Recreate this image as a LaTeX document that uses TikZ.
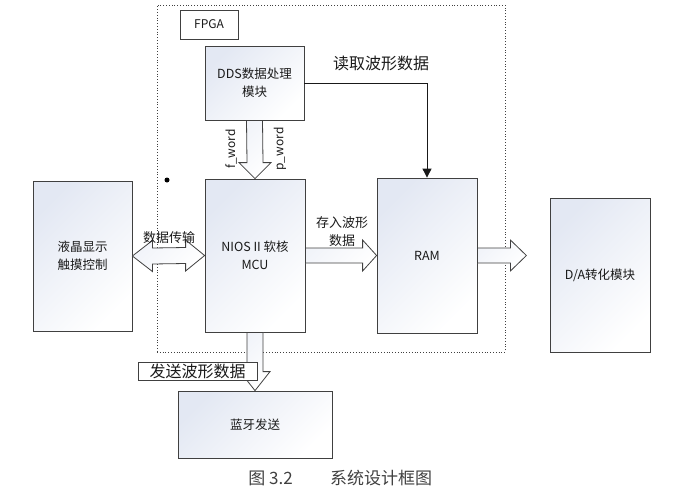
\documentclass[tikz,border=0pt]{standalone}
\usepackage{fontspec}
\setmainfont{Noto Sans CJK SC}
\usetikzlibrary{arrows.meta,calc}
\definecolor{edge}{HTML}{404040}
\definecolor{shadeblue}{HTML}{E3E8F3}
\definecolor{txt}{HTML}{1A1A1A}
\begin{document}
\begin{tikzpicture}[x=1pt,y=-1pt,
  box/.style={draw=edge, line width=0.8pt, top color=shadeblue, bottom color=white, shading angle=45,
    font=\fontsize{12.5}{18}\selectfont, text=txt, align=center, inner sep=0pt},
  fat/.style={draw=edge, line width=0.8pt, top color=shadeblue!50, bottom color=white, shading angle=45, line join=miter},
  lbl/.style={font=\fontsize{13}{18}\selectfont, text=txt, align=center, inner sep=0pt},
  biglbl/.style={font=\fontsize{16}{18}\selectfont, text=txt, inner sep=0pt},
  frame/.style={draw=edge, dotted, line width=0.8pt, inner sep=0pt}]
\useasboundingbox (0,0) rectangle (695,493);

% FPGA frame
\node[frame, minimum width=348pt, minimum height=347pt] (fpgaframe) at (331,178.5) {};
\node[draw=edge, line width=0.8pt, fill=white, minimum width=58pt, minimum height=29pt, inner sep=0pt,
  font=\fontsize{12}{14}\selectfont, text=txt] (fpgalbl) at (209,24.5) {FPGA};

% blocks
\node[box, minimum width=99pt, minimum height=74pt] (dds) at (254.5,83) {DDS数据处理\\模块};
\node[box, minimum width=100pt, minimum height=153pt] (nios) at (255,255.5) {NIOS II 软核\\MCU};
\node[box, minimum width=99pt, minimum height=150pt] (lcd) at (82.5,256) {液晶显示\\触摸控制};
\node[box, minimum width=100pt, minimum height=155pt] (ram) at (427,255.5) {RAM};
\node[box, minimum width=100pt, minimum height=154pt] (da) at (600,275) {D/A转化模块};
\node[box, minimum width=154pt, minimum height=67pt] (bt) at (255,424.5) {蓝牙发送};

\fill[black] (167,180) circle (2.5pt);

% DDS -> NIOS (f_word / p_word)
\path[fat] ($(dds.south)+(-8,0)$) -- ($(nios.north)+(-8,-16)$) -- ($(nios.north)+(-16,-16)$) -- (nios.north)
  -- ($(nios.north)+(16,-16)$) -- ($(nios.north)+(8,-16)$) -- ($(dds.south)+(8,0)$) -- cycle;
\node[lbl, font=\fontsize{12}{14}\selectfont, rotate=90] (fword) at (231,149) {f\_word};
\node[lbl, font=\fontsize{12}{14}\selectfont, rotate=90] (pword) at (280,149) {p\_word};

% DDS -> RAM read
\coordinate (rdcorner) at (dds.east -| ram.north);
\draw[edge!40!black, line width=0.9pt, -{Triangle[width=9pt,length=9pt]}] (dds.east) -- (rdcorner) -- (ram.north);
\node[biglbl] (readlbl) at (381,63) {读取波形数据};

% LCD <-> NIOS
\path[fat] (lcd.east) -- ($(lcd.east)+(20,-15.5)$) -- ($(lcd.east)+(20,-8)$) -- ($(nios.west)+(-19,-8)$)
  -- ($(nios.west)+(-19,-15.5)$) -- (nios.west) -- ($(nios.west)+(-19,15.5)$) -- ($(nios.west)+(-19,8)$)
  -- ($(lcd.east)+(20,8)$) -- ($(lcd.east)+(20,15.5)$) -- cycle;
\node[lbl] (xferlbl) at (169,238) {数据传输};

% NIOS -> RAM
\path[fat] ($(nios.east)+(0,-7.5)$) -- ($(ram.west)+(-14,-7.5)$) -- ($(ram.west)+(-14,-15.5)$) -- (ram.west)
  -- ($(ram.west)+(-14,15.5)$) -- ($(ram.west)+(-14,7.5)$) -- ($(nios.east)+(0,7.5)$) -- cycle;
\node[lbl] (storelbl) at (342,232) {存入波形\\数据};

% RAM -> D/A
\coordinate (datip) at ($(ram.east)+(49,0)$);
\path[fat] ($(ram.east)+(0,-7.5)$) -- ($(datip)+(-16,-7.5)$) -- ($(datip)+(-16,-15.5)$) -- (datip)
  -- ($(datip)+(-16,15.5)$) -- ($(datip)+(-16,7.5)$) -- ($(ram.east)+(0,7.5)$) -- cycle;

% NIOS -> Bluetooth
\path[fat] ($(nios.south)+(-8,0)$) -- ($(bt.north)+(-8,-19)$) -- ($(bt.north)+(-15,-19)$) -- (bt.north)
  -- ($(bt.north)+(15,-19)$) -- ($(bt.north)+(8,-19)$) -- ($(nios.south)+(8,0)$) -- cycle;
\node[draw=edge, line width=0.8pt, fill=white, minimum width=119pt, minimum height=18pt, inner sep=0pt,
  font=\fontsize{16}{18}\selectfont, text=txt] (sendlbl) at (197.5,371) {发送波形数据};

% caption
\node[font=\fontsize{17}{20}\selectfont, text=black!75, inner sep=0pt] (capnum) at (270.5,478) {图 3.2};
\node[font=\fontsize{17}{20}\selectfont, text=black!75, inner sep=0pt] (captxt) at (381,478) {系统设计框图};
\end{tikzpicture}
\end{document}
